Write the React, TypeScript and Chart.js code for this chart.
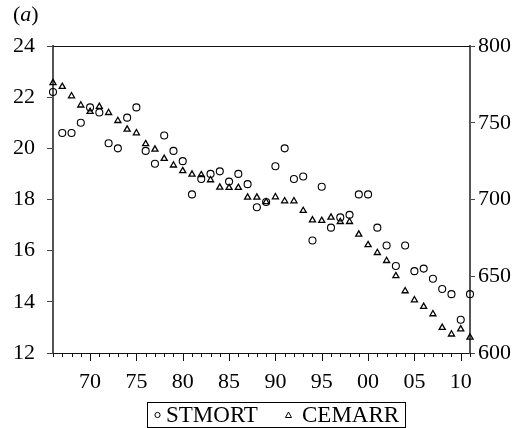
import React, { useEffect, useRef } from 'react';
import { Chart, registerables } from 'chart.js';

Chart.register(...registerables);

const years = [
  1966, 1967, 1968, 1969, 1970, 1971, 1972, 1973, 1974, 1975,
  1976, 1977, 1978, 1979, 1980, 1981, 1982, 1983, 1984, 1985,
  1986, 1987, 1988, 1989, 1990, 1991, 1992, 1993, 1994, 1995,
  1996, 1997, 1998, 1999, 2000, 2001, 2002, 2003, 2004, 2005,
  2006, 2007, 2008, 2009, 2010, 2011,
];

const stmort = [
  22.2, 20.6, 20.6, 21.0, 21.6, 21.4, 20.2, 20.0, 21.2, 21.6,
  19.9, 19.4, 20.5, 19.9, 19.5, 18.2, 18.8, 19.0, 19.1, 18.7,
  19.0, 18.6, 17.7, 17.9, 19.3, 20.0, 18.8, 18.9, 16.4, 18.5,
  16.9, 17.3, 17.4, 18.2, 18.2, 16.9, 16.2, 15.4, 16.2, 15.2,
  15.3, 14.9, 14.5, 14.3, 13.3, 14.3,
];

const cemarr = [
  776, 773.5, 767.4, 761.4, 757.2, 760.5, 756.5, 751.3, 745.7, 743.3,
  736.2, 732.7, 726.6, 722.3, 718.6, 716.4, 716, 712.7, 707.9, 707.7,
  707.7, 701.4, 701.4, 698.4, 701.6, 699, 699, 692.7, 686.6, 686.2,
  688.4, 685.5, 685.5, 677.3, 670.4, 665.3, 660.1, 650.2, 640.4, 634.5,
  630.2, 625.4, 616.5, 612.2, 615.6, 610.2,
];

const leftTicks = [12, 14, 16, 18, 20, 22, 24];
const rightTicks = [600, 650, 700, 750, 800];
const seriesNames = ['STMORT', 'CEMARR'];
const panelLabel = 'a';

const SERIF = "'Liberation Serif', 'Times New Roman', serif";

export default function App() {
  const ref = useRef<HTMLCanvasElement>(null);

  useEffect(() => {
    const canvas = ref.current;
    if (!canvas) return;

    const decor = {
      id: 'decor',
      afterDraw(chart: any) {
        const { ctx, chartArea: a, scales } = chart;
        ctx.save();
        // top frame line
        ctx.strokeStyle = '#111';
        ctx.lineWidth = 1;
        ctx.beginPath();
        ctx.moveTo(a.left, a.top + 0.5);
        ctx.lineTo(a.right, a.top + 0.5);
        ctx.stroke();
        // x tick marks (minor every year, major every 5)
        const xs = scales.x;
        years.forEach((yr) => {
          const px = Math.round(xs.getPixelForValue(yr)) + 0.5;
          const len = yr % 5 === 0 ? 8 : 4;
          ctx.beginPath();
          ctx.moveTo(px, a.bottom);
          ctx.lineTo(px, a.bottom + len);
          ctx.stroke();
        });
        // panel label "(a)"
        ctx.fillStyle = '#000';
        ctx.textBaseline = 'alphabetic';
        ctx.textAlign = 'left';
        ctx.font = `22px ${SERIF}`;
        let x = 13;
        const by = 21;
        ctx.fillText('(', x, by);
        x += ctx.measureText('(').width;
        ctx.font = `italic 22px ${SERIF}`;
        ctx.fillText(panelLabel, x, by);
        x += ctx.measureText(panelLabel).width;
        ctx.font = `22px ${SERIF}`;
        ctx.fillText(')', x, by);

        // legend box
        const bx = 147, bY = 402, bw = 258, bh = 25;
        ctx.strokeStyle = '#000';
        ctx.lineWidth = 1;
        ctx.strokeRect(bx + 0.5, bY + 0.5, bw, bh);
        const cy = 415;
        ctx.font = `23px ${SERIF}`;
        ctx.textBaseline = 'middle';
        // item 1 circle
        ctx.beginPath();
        ctx.arc(157.5, cy, 2.6, 0, Math.PI * 2);
        ctx.stroke();
        ctx.fillText(chart.data.datasets[0].label, 166, cy + 1);
        // item 2 triangle
        ctx.beginPath();
        ctx.moveTo(288.5, cy - 3);
        ctx.lineTo(291.5, cy + 2.5);
        ctx.lineTo(285.5, cy + 2.5);
        ctx.closePath();
        ctx.stroke();
        ctx.fillText(chart.data.datasets[1].label, 302, cy + 1);
        ctx.restore();
      },
    };

    const chart = new Chart(canvas, {
      type: 'scatter',
      data: {
        datasets: [
          {
            label: seriesNames[0],
            data: years.map((yr, i) => ({ x: yr, y: stmort[i] })),
            yAxisID: 'y',
            pointStyle: 'circle',
            pointRadius: 3.5,
            pointBorderWidth: 1.1,
            borderColor: '#000',
            backgroundColor: 'rgba(0,0,0,0)',
            clip: false as any,
          },
          {
            label: seriesNames[1],
            data: years.map((yr, i) => ({ x: yr, y: cemarr[i] })),
            yAxisID: 'y1',
            pointStyle: 'triangle',
            pointRadius: 3.5,
            pointBorderWidth: 1.3,
            borderColor: '#000',
            backgroundColor: 'rgba(0,0,0,0)',
            clip: false as any,
          },
        ],
      },
      options: {
        responsive: false,
        animation: false,
        layout: { padding: { top: 46, left: 0, right: 0, bottom: 0 } },
        plugins: {
          legend: { display: false },
          tooltip: { enabled: false },
        },
        scales: {
          x: {
            type: 'linear',
            min: 1966,
            max: 2011,
            afterBuildTicks: (s: any) => {
              s.ticks = years.map((v) => ({ value: v }));
            },
            afterFit: (s: any) => {
              s.height = 75;
            },
            grid: { display: true, drawOnChartArea: false, drawTicks: false },
            border: { display: true, color: '#111', width: 1 },
            ticks: {
              autoSkip: false,
              maxRotation: 0,
              padding: 16,
              color: '#000',
              font: { family: SERIF, size: 22 },
              callback: (v: any) =>
                Number(v) % 5 === 0 ? String(Number(v) % 100).padStart(2, '0') : '',
            },
          },
          y: {
            type: 'linear',
            position: 'left',
            min: 12,
            max: 24,
            afterBuildTicks: (s: any) => {
              s.ticks = leftTicks.map((v) => ({ value: v }));
            },
            afterFit: (s: any) => {
              s.width = 53;
            },
            grid: { drawOnChartArea: false, drawTicks: true, tickLength: 6, tickColor: '#444' },
            border: { display: true, color: '#555', width: 2 },
            ticks: {
              padding: 12,
              color: '#000',
              font: { family: SERIF, size: 22 },
            },
          },
          y1: {
            type: 'linear',
            position: 'right',
            min: 600,
            max: 800,
            afterBuildTicks: (s: any) => {
              s.ticks = rightTicks.map((v) => ({ value: v }));
            },
            afterFit: (s: any) => {
              s.width = 46;
            },
            grid: { drawOnChartArea: false, drawTicks: true, tickLength: 5, tickColor: '#444' },
            border: { display: true, color: '#555', width: 2 },
            ticks: {
              padding: 3,
              color: '#000',
              font: { family: SERIF, size: 22 },
            },
          },
        },
      },
      plugins: [decor],
    });

    return () => chart.destroy();
  }, []);

  return (
    <div style={{ position: 'absolute', left: 0, top: 0, width: 516, height: 428, background: '#fff' }}>
      <canvas ref={ref} width={516} height={428} style={{ display: 'block' }} />
    </div>
  );
}
